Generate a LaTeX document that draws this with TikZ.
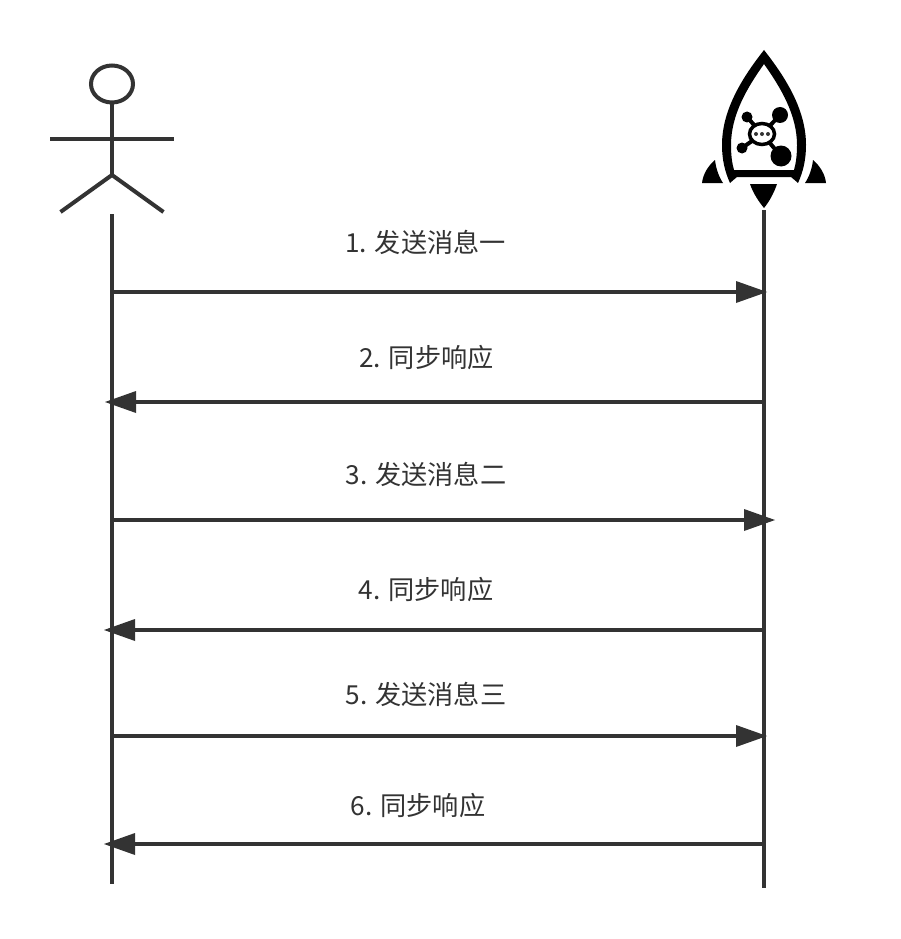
\documentclass[tikz,border=0pt]{standalone}
\usepackage{fontspec}
\setmainfont{Noto Sans CJK SC}
\usetikzlibrary{arrows.meta}
\definecolor{ink}{HTML}{333333}
\tikzset{
  lifeline/.style={draw=ink,line width=4pt},
  stick/.style={draw=ink,line width=4pt},
  msg/.style={draw=ink,line width=4pt,-{Triangle[length=31pt,width=22pt,line width=0pt]}},
  lbl/.style={text=ink,font=\fontsize{26.2}{30}\selectfont,inner sep=0pt,anchor=center},
  logo/.style={draw=black,line width=4pt}
}
\begin{document}
\begin{tikzpicture}[x=1pt,y=-1pt]
\useasboundingbox (0,0) rectangle (900,939);
\fill[white] (0,0) rectangle (900,939);
% actor
\draw[stick] (112,84) ellipse [x radius=21,y radius=18.5];
\coordinate (neck) at (112,102.5);
\coordinate (hip) at (112,175);
\coordinate (armL) at (50,139);
\coordinate (armR) at (174,139);
\coordinate (legL) at (60.5,212);
\coordinate (legR) at (163.5,212);
\draw[stick] (neck) -- (hip);
\draw[stick] (armL) -- (armR);
\draw[stick] (legL) -- (hip) -- (legR);
% rocket
\fill[black,even odd rule]
  (764,50) .. controls (742,78) and (722,110) .. (722,145)
  .. controls (722,160) and (725,172) .. (730,183)
  .. controls (733,181) and (735,178) .. (737,177)
  -- (791,177) .. controls (793,178) and (795,181) .. (798,183)
  .. controls (803,172) and (806,160) .. (806,145)
  .. controls (806,110) and (786,78) .. (764,50) -- cycle
  (764,64) .. controls (747,88) and (731,115) .. (731,145)
  .. controls (731,155) and (732,163) .. (734,170)
  -- (794,170) .. controls (796,163) and (797,155) .. (797,145)
  .. controls (797,115) and (781,88) .. (764,64) -- cycle;
\fill[black] (715,160) .. controls (716,169) and (719,177) .. (723,183) -- (702,183) .. controls (703,174) and (708,166) .. (715,160) -- cycle;
\fill[black] (813,160) .. controls (812,169) and (809,177) .. (805,183) -- (826,183) .. controls (825,174) and (820,166) .. (813,160) -- cycle;
\fill[black] (750,184) -- (777,184) .. controls (774,193) and (769,202) .. (764,208) .. controls (759,202) and (753,193) .. (750,184) -- cycle;
\draw[logo] (747,117) -- (762,134) (780,115) -- (762,134) (742,148) -- (762,134) (781,156) -- (762,134);
\fill[white] (762,134) ellipse [x radius=12.5,y radius=10.5];
\draw[black,line width=3.5pt] (762,134) ellipse [x radius=12.5,y radius=10.5];
\fill[black] (747,117) circle (5.5) (780,115) circle (8) (742,148) circle (5.5) (781,156) circle (10.5);
\fill[black!80] (756,134) circle (2) (762,134) circle (2) (768,134) circle (2);
% lifelines
\coordinate (a0) at (112,214);
\coordinate (a1) at (112,884);
\coordinate (b0) at (764,210);
\coordinate (b1) at (764,888);
\draw[lifeline] (a0) -- (a1);
\draw[lifeline] (b0) -- (b1);
% message ends
\coordinate (m1s) at (112,292);   \coordinate (m1e) at (767,292);
\coordinate (m2s) at (764,402);   \coordinate (m2e) at (105,402);
\coordinate (m3s) at (112,520);   \coordinate (m3e) at (775,520);
\coordinate (m4s) at (764,630);   \coordinate (m4e) at (104,630);
\coordinate (m5s) at (112,736);   \coordinate (m5e) at (767,736);
\coordinate (m6s) at (764,844);   \coordinate (m6e) at (104,844);
\draw[msg] (m1s) -- (m1e);
\draw[msg] (m2s) -- (m2e);
\draw[msg] (m3s) -- (m3e);
\draw[msg] (m4s) -- (m4e);
\draw[msg] (m5s) -- (m5e);
\draw[msg] (m6s) -- (m6e);
% labels
\node[lbl] (l1) at (425.5,242) {1. 发送消息一};
\node[lbl] (l2) at (426.5,358) {2. 同步响应};
\node[lbl] (l3) at (426,474) {3. 发送消息二};
\node[lbl] (l4) at (426,590) {4. 同步响应};
\node[lbl] (l5) at (426,694) {5. 发送消息三};
\node[lbl] (l6) at (418,806) {6. 同步响应};
\end{tikzpicture}
\end{document}
